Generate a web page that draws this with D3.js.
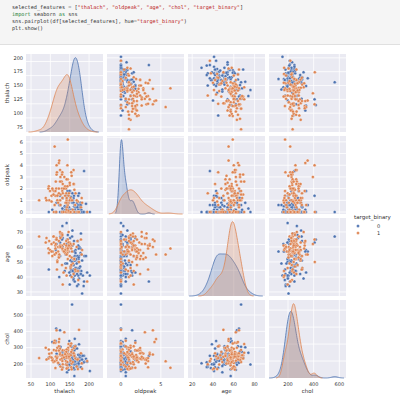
<!DOCTYPE html>
<html><head><meta charset="utf-8">
<script src="https://cdn.jsdelivr.net/npm/d3@7"></script>
<style>body{margin:0;background:#fff}</style>
</head><body>
<svg id="c" width="400" height="405"></svg>
<script>
const features = ["thalach","oldpeak","age","chol"];
const hueLevels = ["0","1"];
const colors = ["#4c72b0","#dd8452"];
// rows: [thalach, oldpeak, age, chol]
const class0 = [[187,3.5,37,250],[172,1.4,41,204],[178,0.8,56,236],[163,0.6,57,354],[148,0.4,57,192],[153,1.3,44,263],[173,0,52,199],[162,0.5,57,168],[174,1.6,54,239],[160,1.2,48,275],[139,0.2,49,266],[171,0.6,64,211],[144,1.8,58,283],[158,1,50,219],[114,0,58,340],[151,1.8,66,226],[161,1.4,43,247],[179,0,69,239],[178,0,59,234],[137,0.5,44,233],[178,0.4,42,226],[157,1.6,61,243],[123,0.6,40,199],[157,0.8,71,302],[152,0,51,212],[168,0,46,231],[140,0.4,55,262],[188,0,54,214],[152,0.2,41,203],[125,0,54,304],[160,0,39,199],[170,0,45,234],[165,0,58,220],[142,1.5,62,209],[180,0,44,258],[156,0,67,564],[115,0,65,417],[160,0.8,48,256],[162,0,52,284],[173,0.2,44,233],[145,0.2,68,274],[144,1.4,60,178],[172,0,35,183],[158,0,52,201],[192,0.7,54,232],[163,0,41,197],[182,0,29,204],[202,0,41,157],[125,1.4,63,407],[165,0,51,295],[154,0,45,308],[169,0,34,182],[152,0,47,243],[116,0.8,62,263],[126,0.6,67,306],[160,0,45,177],[172,0,50,196],[161,0,64,309],[163,0.2,54,214],[150,0,35,192],[171,0,44,220],[180,0.2,55,250],[132,0.1,60,178],[165,0.4,46,311],[175,0.6,60,240],[167,0,52,196],[169,0.8,42,295],[195,0,43,213],[131,0.3,74,269],[105,0.2,57,335],[143,1.2,65,207],[173,0,59,212],[149,1.8,43,341],[143,0.6,49,149],[162,0.5,51,308],[172,0.2,61,256],[174,0,39,321],[184,0,41,250],[160,0,38,175],[142,0,76,197],[175,0,46,220],[170,0.4,54,232],[148,0.8,63,195],[177,0.4,47,257],[162,0.6,57,126],[147,0.2,62,164],[96,0,45,240],[179,0.6,42,180],[132,1.2,66,278],[173,0,53,203],[182,0,51,227],[163,0.6,37,215],[156,0.1,50,221],[168,0,49,188],[186,0,34,210],[130,0,65,253],[158,0,44,226],[165,0,56,240],[155,0.2,48,235],[161,0,53,262]];
const class1 = [[150,2.3,63,233],[109,1.8,67,286],[129,2.6,67,229],[160,3.6,62,268],[147,1.4,63,254],[155,3.1,53,203],[142,1,56,256],[130,2,48,229],[132,2.4,58,284],[146,0,57,286],[96,2.2,56,288],[144,4,60,258],[103,1.4,62,267],[145,2.8,52,264],[115,2,65,248],[113,1.8,61,330],[150,2.5,54,232],[145,0.6,65,260],[154,3.4,61,180],[111,0.6,55,342],[171,0.9,44,169],[120,1.5,60,206],[113,1.4,59,176],[140,0,46,197],[181,1.2,55,205],[147,0,70,322],[146,0.8,58,300],[126,3,66,228],[109,0,63,330],[143,0.4,57,192],[131,1.8,59,177],[155,1,40,167],[125,1,60,293],[131,3.4,59,218],[152,1.2,46,311],[142,2.8,56,236],[118,1,51,299],[132,1.6,35,198],[95,2,59,234],[130,0,61,166],[88,1.2,63,299],[144,0.8,56,249],[120,0.8,57,207],[140,2,59,218],[122,4.2,64,335],[126,1.5,69,254],[150,1,60,258],[138,2.2,56,283],[99,1.8,58,244],[142,0.2,55,289],[162,1.9,52,255],[125,2.6,70,269],[136,3,62,394],[154,0,59,326],[144,2.2,58,212],[158,0.2,49,212],[108,1.5,67,212],[165,1.6,44,233],[111,5.6,55,217],[172,0,38,231],[97,1,64,263],[139,0.8,58,271],[156,1,57,286],[141,0.8,61,274],[71,1,67,236],[90,1,66,228],[168,1,60,185],[134,0,43,247],[161,2.4,52,298],[147,0.1,60,240],[106,1.9,57,230],[122,1.6,54,309],[125,3.6,61,260],[160,2.4,42,265],[182,0.8,58,170],[164,0.6,45,308],[130,3.2,69,234],[153,0,47,253],[115,0,56,282],[179,0.4,65,266],[105,2,54,223],[154,0,48,274],[141,1.6,64,246],[145,6.2,59,177],[195,0,37,218],[116,3.2,66,225],[118,1.4,50,244],[114,2.6,62,244],[123,4.4,55,353],[170,0,64,227],[126,0.6,60,185],[117,3.4,45,236],[162,0,52,249],[131,1.2,68,254],[103,0.9,57,239],[122,2,53,282],[142,1.2,41,172],[116,4,65,407],[174,0,50,409],[152,0,62,220],[138,1.4,58,260],[148,1.6,61,245],[135,2,57,240]];
const xDomains = [[37,236],[-1.75,7.9],[16,90],[52,652]];
const yDomains = [[66,207],[-0.17,6.5],[27.3,79.3],[114,592]];
const xTicks = [[50,100,150,200],[0,5],[20,40,60,80],[200,400,600]];
const yTicks = [[75,100,125,150,175,200],[0,1,2,3,4,5,6],[30,40,50,60,70],[200,300,400,500]];
const codeLines = [
 [["selected_features = [","#333"],["\"thalach\", \"oldpeak\", \"age\", \"chol\", \"target_binary\"","#b22"],["]","#333"]],
 [["import","#1a7f37"],[" seaborn ","#333"],["as","#1a7f37"],[" sns","#333"]],
 [["sns.pairplot(df[selected_features], hue=","#333"],["\"target_binary\"","#b22"],[")","#333"]],
 [["plt.show()","#333"]]
];

const svg = d3.select("#c");
svg.append("rect").attr("x",0).attr("y",0).attr("width",400).attr("height",44).attr("fill","#f5f5f5");
svg.append("line").attr("x1",0).attr("x2",400).attr("y1",44.5).attr("y2",44.5).attr("stroke","#e0e0e0");
codeLines.forEach((ln,i)=>{
  const t = svg.append("text").attr("x",12).attr("y",9+i*7).attr("font-family","DejaVu Sans Mono").attr("font-size",5.2);
  ln.forEach(s=>t.append("tspan").attr("fill",s[1]).text(s[0]));
});

const colX = [26,107,188,269], rowY = [54,136,218,300], W = 77, H = 78;
const data = [class0, class1];
const N = class0.length + class1.length;
const font = "DejaVu Sans";

function kde(vals, grid){
  const n = vals.length, m = d3.mean(vals), sd = d3.deviation(vals);
  const bw = sd * Math.pow(n, -0.2);
  return {bw, f: grid.map(x=>[x, d3.sum(vals, v=>Math.exp(-0.5*((x-v)/bw)**2))/(n*bw*Math.sqrt(2*Math.PI))*n/N])};
}

for(let r=0;r<4;r++) for(let c=0;c<4;c++){
  const g = svg.append("g").attr("transform",`translate(${colX[c]},${rowY[r]})`);
  g.append("rect").attr("width",W).attr("height",H).attr("fill","#eaeaf2");
  const x = d3.scaleLinear().domain(xDomains[c]).range([0,W]);
  const y = d3.scaleLinear().domain(yDomains[r]).range([H,0]);
  xTicks[c].forEach(t=>g.append("line").attr("x1",x(t)).attr("x2",x(t)).attr("y1",0).attr("y2",H).attr("stroke","#fff").attr("stroke-width",0.8));
  if(r!==c){
    yTicks[r].forEach(t=>g.append("line").attr("y1",y(t)).attr("y2",y(t)).attr("x1",0).attr("x2",W).attr("stroke","#fff").attr("stroke-width",0.8));
    data.forEach((d,k)=>{
      g.selectAll(null).data(d).enter().append("circle")
        .attr("cx",p=>x(p[c])).attr("cy",p=>y(p[r])).attr("r",1.5)
        .attr("fill",colors[k]).attr("stroke","#fff").attr("stroke-width",0.3);
    });
  } else {
    const curves = data.map(d=>{
      const vals = d.map(p=>p[c]);
      const bw = d3.deviation(vals)*Math.pow(vals.length,-0.2);
      const lo = d3.min(vals)-3*bw, hi = d3.max(vals)+3*bw;
      const grid = d3.range(200).map(i=>lo+(hi-lo)*i/199);
      return kde(vals, grid).f;
    });
    const ymax = d3.max(curves, cv=>d3.max(cv, p=>p[1]));
    const yk = d3.scaleLinear().domain([0, ymax*1.05]).range([H,0]);
    yk.ticks(4).forEach(t=>{ if(t>0) g.append("line").attr("y1",yk(t)).attr("y2",yk(t)).attr("x1",0).attr("x2",W).attr("stroke","#fff").attr("stroke-width",0.8);});
    const area = d3.area().x(p=>x(p[0])).y0(H).y1(p=>yk(p[1]));
    const line = d3.line().x(p=>x(p[0])).y(p=>yk(p[1]));
    curves.forEach((cv,k)=>{
      g.append("path").attr("d",area(cv)).attr("fill",colors[k]).attr("fill-opacity",0.25);
      g.append("path").attr("d",line(cv)).attr("fill","none").attr("stroke",colors[k]).attr("stroke-width",0.8);
    });
  }
  if(c===0){
    yTicks[r].forEach(t=>g.append("text").attr("x",-3).attr("y",y(t)+1.7).attr("text-anchor","end").attr("font-family",font).attr("font-size",5).attr("fill","#333").text(t));
    g.append("text").attr("transform",`translate(-17,${H/2}) rotate(-90)`).attr("text-anchor","middle").attr("font-family",font).attr("font-size",5.5).attr("fill","#333").text(features[r]);
  }
  if(r===3){
    xTicks[c].forEach(t=>g.append("text").attr("x",x(t)).attr("y",H+8).attr("text-anchor","middle").attr("font-family",font).attr("font-size",5).attr("fill","#333").text(t));
    g.append("text").attr("x",W/2).attr("y",H+15).attr("text-anchor","middle").attr("font-family",font).attr("font-size",5.5).attr("fill","#333").text(features[c]);
  }
}
// legend
svg.append("text").attr("x",354).attr("y",219).attr("font-family",font).attr("font-size",5.5).attr("fill","#333").text("target_binary");
hueLevels.forEach((h,k)=>{
  svg.append("circle").attr("cx",358).attr("cy",226+k*7).attr("r",1.5).attr("fill",colors[k]).attr("stroke","#fff").attr("stroke-width",0.3);
  svg.append("text").attr("x",377).attr("y",228+k*7).attr("font-family",font).attr("font-size",5).attr("fill","#333").text(h);
});
</script>
</body></html>
